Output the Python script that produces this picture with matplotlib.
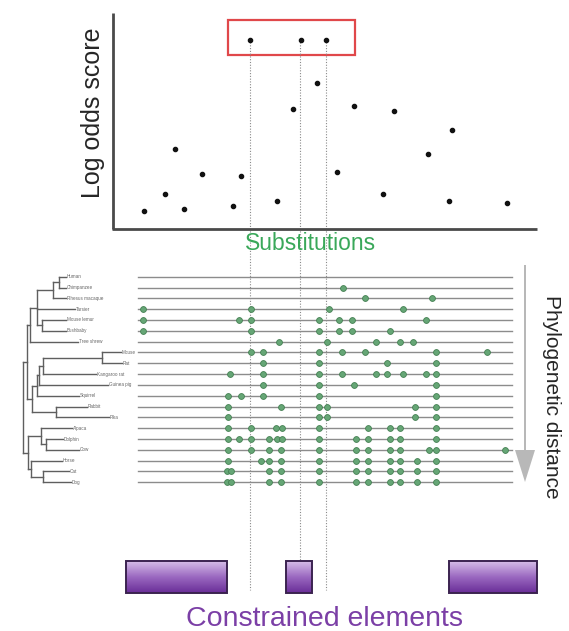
import numpy as np
import matplotlib
matplotlib.use("Agg")
import matplotlib.pyplot as plt
from matplotlib.patches import Rectangle
from matplotlib.colors import LinearSegmentedColormap

plt.rcParams['font.family'] = ['Liberation Sans', 'DejaVu Sans']

# log odds scores (position along sequence, score) in picture pixels
score_x = [144, 165, 175, 184, 202, 233, 241, 250, 277, 293, 301, 317, 326,
           337, 354, 383, 394, 428, 449, 452, 507]
score_y = [211, 194, 149, 209, 174, 206, 176, 40, 201, 109, 40, 83, 40,
           172, 106, 194, 111, 154, 201, 130, 203]
top_hits = [250, 300.5, 326]

species = ["Human", "Chimpanzee", "Rhesus macaque", "Tarsier", "Mouse lemur",
           "Bushbaby", "Tree shrew", "Mouse", "Rat", "Kangaroo rat",
           "Guinea pig", "Squirrel", "Rabbit", "Pika", "Alpaca", "Dolphin",
           "Cow", "Horse", "Cat", "Dog"]
tip_x = [66, 66, 66, 75, 66, 66, 78, 121, 122, 96, 108, 79, 87, 109,
         72, 63, 79, 62, 69, 71]

# substitution positions per species
subs = [
    [],
    [343],
    [365, 432],
    [143, 251, 329, 403],
    [143, 239, 251, 319, 339, 352, 426],
    [143, 251, 319, 339, 352, 390],
    [279, 327, 376, 400, 413],
    [251, 263, 319, 342, 365, 436, 487],
    [263, 319, 387, 436],
    [230, 263, 319, 342, 376, 387, 403, 426, 436],
    [263, 319, 354, 436],
    [228, 241, 263, 319, 436],
    [228, 281, 319, 327, 415, 436],
    [228, 319, 327, 415, 436],
    [228, 251, 276, 282, 319, 368, 390, 400, 436],
    [228, 239, 251, 269, 277, 282, 319, 356, 368, 390, 400, 436],
    [228, 251, 269, 281, 319, 356, 368, 390, 400, 429, 436, 505],
    [228, 261, 269, 281, 319, 356, 368, 390, 400, 417, 436],
    [227, 231, 269, 281, 319, 356, 368, 390, 400, 417, 436],
    [227, 231, 269, 281, 319, 356, 368, 390, 400, 417, 436],
]

# tree: (node depth, children); leaves are species indices
tree = (23, [
    (27, [
        (30, [
            (36.7, [(53.3, [(59.3, [0, 1]), 2]), 3, (41.7, [4, 5])]),
            6]),
        (31.7, [
            (37.3, [(39.3, [(43.3, [(101.7, [7, 8]), 9]), 10]), 11]),
            (56, [12, 13])]),
    ]),
    (28, [
        (40.7, [14, (46, [15, 16])]),
        (30.7, [17, (43.3, [18, 19])]),
    ]),
])

# constrained elements (start, end)
elem_start = [126, 286, 449]
elem_end = [227, 312, 537]

row_y = 276.7 + 10.82 * np.arange(len(species))

fig = plt.figure(figsize=(5.69, 6.31), dpi=100)
ax = fig.add_axes([0, 0, 1, 1])
ax.set_xlim(0, 569)
ax.set_ylim(631, 0)
ax.axis('off')

# top panel
ax.plot([113, 113], [13, 229], color='#4a4a4a', lw=2, solid_capstyle='butt')
ax.plot([112, 537], [229, 229], color='#4a4a4a', lw=2, solid_capstyle='butt')
ax.plot(score_x, score_y, 'o', color='#111111', ms=3, zorder=5)
ax.add_patch(Rectangle((228.5, 19.5), 127, 35, fill=False, ec='#e0484a', lw=1.6))
ax.text(93, 113, "Log odds score", rotation=90, ha='center', va='center',
        fontsize=18, color='#262626')
ax.text(311, 243, "Substitutions", ha='center', va='center', fontsize=16.5,
        color='#3aa85a')

for x in top_hits:
    ax.plot([x, x], [42, 590], color='#8a8a8a', lw=0.8, ls=(0, (1, 1.5)), zorder=1)

# alignment rows
for i, y in enumerate(row_y):
    ax.plot([138, 512], [y, y], color='#8c8c8c', lw=1.0, zorder=2)
    if subs[i]:
        ax.plot(subs[i], [y] * len(subs[i]), 'o', ms=4.2, color='#66a676',
                mec='#447f52', mew=0.6, zorder=3)
    ax.text(tip_x[i] + 1, y, species[i], fontsize=3.3, color='#666666',
            va='center', ha='left')


def draw(node):
    if isinstance(node, int):
        return tip_x[node], row_y[node]
    x, kids = node
    pts = [draw(k) for k in kids]
    ys = [p[1] for p in pts]
    for cx, cy in pts:
        ax.plot([x, cx], [cy, cy], color='#5f5f5f', lw=1.0)
    ax.plot([x, x], [min(ys), max(ys)], color='#5f5f5f', lw=1.0)
    return x, (min(ys) + max(ys)) / 2


rx, ry = draw(tree)

# phylogenetic distance arrow
ax.arrow(525, 265, 0, 217, width=2, head_width=20, head_length=32,
         length_includes_head=True, color='#b8b8b8', ec='none')
ax.text(552, 397, "Phylogenetic distance", rotation=-90, ha='center',
        va='center', fontsize=15, color='#262626')

# constrained elements
cmap = LinearSegmentedColormap.from_list('pur', ['#d6bde8', '#9a68c0', '#6a2e98'])
grad = np.linspace(0, 1, 64).reshape(-1, 1)
for s, e in zip(elem_start, elem_end):
    ax.imshow(grad, cmap=cmap, aspect='auto', extent=(s, e, 593, 561), zorder=4)
    ax.add_patch(Rectangle((s, 561), e - s, 32, fill=False, ec='#3b2350',
                           lw=1.4, zorder=5))
ax.text(325, 619, "Constrained elements", ha='center', va='center',
        fontsize=20.5, color='#7b3fa6')

ax.set_xlim(0, 569)
ax.set_ylim(631, 0)
fig.savefig('out.png', dpi=100)
